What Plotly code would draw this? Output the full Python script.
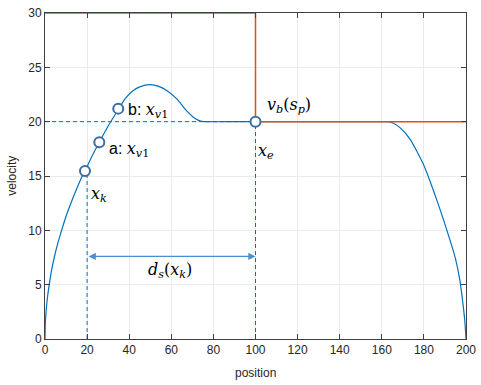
import plotly.graph_objects as go

# velocity profile
pos = [0, 0.15, 0.5, 1.1, 2.0, 3.2, 4.4, 6.0, 7.9, 10.0, 12.3, 15.0, 17.7, 19.0, 22.0, 25.8, 30.0, 34.8,
       38.0, 41.5, 45.0, 50.0, 54.0, 58.0, 62.6, 67.3, 71.3, 74.0, 77.0, 90.0, 120.0, 150.0, 160.0, 163.0,
       165.5, 168.6, 173.4, 179.7, 186.1, 192.4, 195.0, 197.1, 198.7, 199.5, 200.0]
vel = [0, 1.4, 2.5, 3.7, 5.0, 6.4, 7.5, 8.75, 10.0, 11.3, 12.5, 13.8, 15.0, 15.45, 16.7, 18.1, 19.6, 21.1,
       22.1, 22.8, 23.2, 23.4, 23.25, 22.85, 22.1, 21.0, 20.3, 20.05, 20.0, 20.0, 20.0, 20.0, 20.0, 20.0,
       19.85, 19.45, 18.4, 16.1, 12.8, 9.1, 7.4, 5.4, 3.0, 1.5, 0.0]

# limit curve (red)
lim_x = [0, 100, 100, 200]
lim_v = [30, 30, 20, 20]

# marked points
pt_x = [19.0, 25.8, 34.8, 100.0]
pt_v = [15.45, 18.1, 21.2, 20.0]

x_k = 20
x_e = 100
v_ref = 20
arrow_v = 7.6

x_ticks = list(range(0, 201, 20))
y_ticks = list(range(0, 31, 5))

blue = "#0072BD"
red = "#D95319"
dark = "#262626"
math_font = "DejaVu Serif"

fig = go.Figure()
fig.add_trace(go.Scatter(x=pos, y=vel, mode="lines",
                         line=dict(color=blue, width=1.2, shape="spline", smoothing=0.6),
                         hoverinfo="skip"))
dash = "4px,3px"
fig.add_trace(go.Scatter(x=[0, x_e], y=[v_ref, v_ref], mode="lines",
                         line=dict(color=blue, width=1, dash=dash)))
fig.add_trace(go.Scatter(x=[x_k, x_k], y=[0, pt_v[0]], mode="lines",
                         line=dict(color=blue, width=1, dash=dash)))
fig.add_trace(go.Scatter(x=[x_e, x_e], y=[0, v_ref], mode="lines",
                         line=dict(color=blue, width=1, dash=dash)))
fig.add_trace(go.Scatter(x=lim_x, y=lim_v, mode="lines",
                         line=dict(color=red, width=1.5), cliponaxis=False))
fig.add_trace(go.Scatter(x=pt_x, y=pt_v, mode="markers",
                         marker=dict(symbol="circle", size=10, color="white",
                                     line=dict(color="#3E6C9E", width=2)),
                         cliponaxis=False))

def mtxt(x, y, text, xanchor="left", yanchor="middle"):
    fig.add_annotation(x=x, y=y, xref="x", yref="y", text=text, showarrow=False,
                       xanchor=xanchor, yanchor=yanchor,
                       font=dict(family=math_font, size=16, color="black"))

sans = "<span style='font-family:Liberation Sans'>%s</span>"
mtxt(21.0, 13.3, "<i>x</i><sub><i>k</i></sub>")
mtxt(29.5, 17.4, (sans % "a: ") + "<i>x</i><sub><i>v</i>1</sub>")
mtxt(38.5, 21.0, (sans % "b: ") + "<i>x</i><sub><i>v</i>1</sub>")
mtxt(104.5, 21.5, "<i>v</i><sub><i>b</i></sub>(<i>s</i><sub><i>p</i></sub>)")
mtxt(100.3, 17.3, "<i>x</i><sub><i>e</i></sub>")
mtxt(59.5, 6.3, "<i>d</i><sub><i>s</i></sub>(<i>x</i><sub><i>k</i></sub>)", xanchor="center")

fig.add_annotation(x=x_e, y=arrow_v, ax=x_k, ay=arrow_v, xref="x", yref="y", axref="x", ayref="y",
                   text="", showarrow=True, arrowhead=2, startarrowhead=2, arrowside="end+start",
                   arrowsize=1.2, arrowwidth=1.2, arrowcolor="#4A8FD0", standoff=0, startstandoff=0)

# axis titles
fig.add_annotation(x=0.5, y=-0.105, xref="paper", yref="paper", text="position", showarrow=False,
                   xanchor="center", yanchor="middle",
                   font=dict(family="Liberation Sans", size=12, color=dark))
fig.add_annotation(x=-0.079, y=0.5, xref="paper", yref="paper", text="velocity", showarrow=False,
                   xanchor="center", yanchor="middle", textangle=-90,
                   font=dict(family="Liberation Sans", size=12, color=dark))

axis_common = dict(showline=True, linecolor="#404040", linewidth=1, mirror="ticks",
                   ticks="inside", ticklen=5, tickcolor="#404040", showgrid=True,
                   gridcolor="#EBEBEB", gridwidth=1, zeroline=False, automargin=False,
                   tickfont=dict(family="Liberation Sans", size=12, color=dark))
fig.update_xaxes(range=[0, 200], tickvals=x_ticks, **axis_common)
fig.update_yaxes(range=[0, 30], tickvals=y_ticks, **axis_common)
fig.update_layout(width=481, height=385, showlegend=False, plot_bgcolor="white",
                  paper_bgcolor="white", margin=dict(l=45, r=15, t=13, b=46))
fig.write_html("out.html", config={"displayModeBar": False},
               post_script="document.body.style.margin='0px';")
